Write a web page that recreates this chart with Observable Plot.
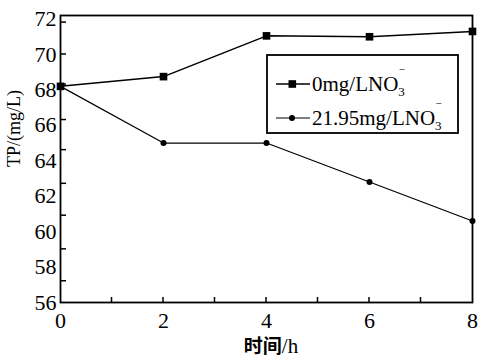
<!DOCTYPE html>
<html><head><meta charset="utf-8">
<script src="https://cdn.jsdelivr.net/npm/d3@7"></script>
<script src="https://cdn.jsdelivr.net/npm/@observablehq/plot@0.6"></script>
<style>body{margin:0;background:#fff} svg{display:block}</style>
</head><body><div id="chart"></div>
<script>
// time (h)
const hours = [0, 2, 4, 6, 8];
// TP (mg/L)
const series0 = [68.2, 68.75, 71.05, 71.0, 71.3];   // 0mg/L NO3-
const series1 = [68.2, 65.0, 65.0, 62.8, 60.6];      // 21.95mg/L NO3-
const seriesNames = ["0mg/LNO", "21.95mg/LNO"];
const xTickLabels = [0, 2, 4, 6, 8];
const xTickMarks = [1, 2, 3, 4, 5, 6, 7];
const yTickLabels = [56, 58, 60, 62, 64, 66, 68, 70, 72];
const yTickMarks = [57.2, 59, 60.9, 62.7, 64.6, 66.3, 68.3, 70, 71.8];
const xLabelCJK = "时间";
const xLabelUnit = "/h";
const yLabel = "TP/(mg/L)";

const serif = "'Liberation Serif', 'DejaVu Serif', serif";
const W = 496, H = 360, mL = 60, mR = 24, mT = 15, mB = 58;

const plot = Plot.plot({
  width: W, height: H,
  marginLeft: mL, marginRight: mR, marginTop: mT, marginBottom: mB,
  x: {domain: [0, 8]},
  y: {domain: [56, 72.2]},
  style: {background: "#fff", color: "#000"},
  marks: [
    Plot.axisX(xTickLabels, {tickSize: 0, tickPadding: 10, fontSize: 22, fontFamily: serif, label: null}),
    Plot.axisY(yTickLabels, {tickSize: 0, tickPadding: 4, fontSize: 22, fontFamily: serif, label: null}),
    Plot.frame({stroke: "#000", strokeWidth: 1.8}),
    Plot.line(hours, {x: d => d, y: (d, i) => series0[i], stroke: "#000", strokeWidth: 1.5}),
    Plot.line(hours, {x: d => d, y: (d, i) => series1[i], stroke: "#000", strokeWidth: 1.2}),
    Plot.dot(hours, {x: d => d, y: (d, i) => series0[i], symbol: "square", r: 4.3, fill: "#000"}),
    Plot.dot(hours, {x: d => d, y: (d, i) => series1[i], symbol: "circle", r: 3, fill: "#000"}),
    Plot.text([yLabel], {frameAnchor: "left", rotate: -90, dx: -46, dy: 8, fontSize: 18, fontFamily: serif, fill: "#000"})
  ]
});
document.getElementById("chart").appendChild(plot);

const sx = plot.scale("x"), sy = plot.scale("y");
const svg = d3.select(plot);
const x0 = sx.apply(0), yBottom = sy.apply(56);
// inward ticks
const tk = svg.append("g").attr("stroke", "#000").attr("stroke-width", 1.5);
xTickMarks.forEach(v => tk.append("line").attr("x1", sx.apply(v)).attr("x2", sx.apply(v)).attr("y1", yBottom).attr("y2", yBottom - 5));
yTickMarks.forEach(v => tk.append("line").attr("x1", x0).attr("x2", x0 + 6).attr("y1", sy.apply(v)).attr("y2", sy.apply(v)));

// x-axis title with mixed fonts
const xt = svg.append("text")
  .attr("x", mL + (W - mL - mR) / 2 + 5).attr("y", 353)
  .attr("text-anchor", "middle").attr("fill", "#000");
xt.append("tspan").attr("font-family", "'Noto Sans CJK SC', sans-serif").attr("font-weight", "bold").attr("font-size", 19).text(xLabelCJK);
xt.append("tspan").attr("font-family", serif).attr("font-size", 21).text(xLabelUnit);

// legend
const lg = svg.append("g");
lg.append("rect").attr("x", 267).attr("y", 55).attr("width", 191).attr("height", 78)
  .attr("fill", "#fff").attr("stroke", "#000").attr("stroke-width", 1.8);
const rows = [{y: 84, sym: "square", sw: 1.5}, {y: 118, sym: "circle", sw: 1.2}];
rows.forEach((r, i) => {
  lg.append("line").attr("x1", 276).attr("x2", 310).attr("y1", r.y).attr("y2", r.y)
    .attr("stroke", "#000").attr("stroke-width", r.sw);
  if (r.sym === "square") lg.append("rect").attr("x", 288.5).attr("y", r.y - 3.8).attr("width", 7.6).attr("height", 7.6).attr("fill", "#000");
  else lg.append("circle").attr("cx", 292).attr("cy", r.y).attr("r", 3).attr("fill", "#000");
  const t = lg.append("text").attr("x", 312).attr("y", r.y + 7).attr("text-anchor", "start")
    .attr("font-family", serif).attr("font-size", 21).attr("fill", "#000");
  t.append("tspan").text(seriesNames[i]);
  t.append("tspan").attr("font-size", 13).attr("dy", 5).text("3");
  const b = t.node().getBBox();
  lg.append("text").attr("x", b.x + b.width - 3).attr("y", r.y - 11).attr("text-anchor", "middle")
    .attr("font-family", serif).attr("font-size", 11).attr("fill", "#000").text("−");
});
</script></body></html>
